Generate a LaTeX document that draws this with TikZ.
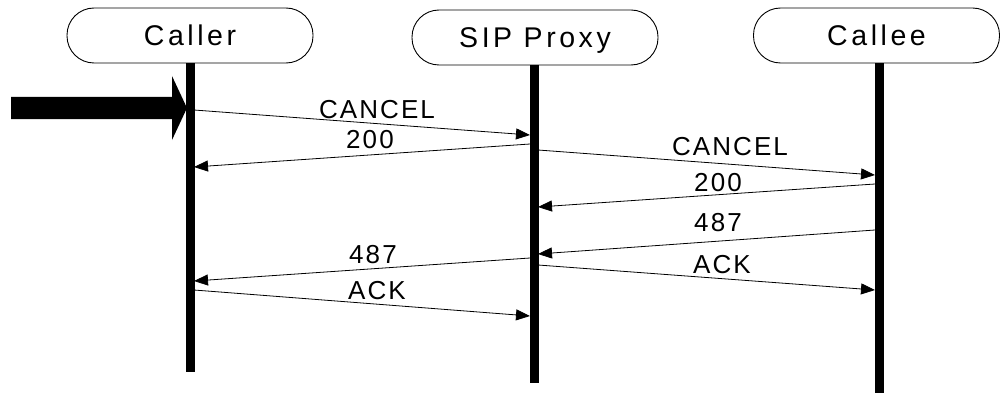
\documentclass[tikz,border=0pt]{standalone}
\usepackage{fontspec}
\setmainfont{Liberation Sans}
\newfontfamily\hdrfont[LetterSpace=12.5]{Liberation Sans}
\newfontfamily\lblfont[LetterSpace=8]{Liberation Sans}
\usetikzlibrary{arrows.meta}
\begin{document}
\begin{tikzpicture}[x=1pt,y=-1pt,
  header/.style={draw=black,line width=0.9pt,rounded corners=27pt,
    minimum width=246pt,minimum height=55pt,inner sep=0pt,
    font=\hdrfont\fontsize{28.5}{30}\selectfont,text height=20.4pt,text depth=0pt},
  lifeline/.style={line width=9pt},
  msg/.style={line width=0.8pt,-{Triangle[length=14pt,width=11pt]}},
  msglabel/.style={inner sep=0pt,font=\lblfont\fontsize{26}{28}\selectfont,
    text height=18.6pt,text depth=0pt}]
\useasboundingbox (0,0) rectangle (1000,393);
% headers
\node[header] (caller) at (190,35.5) {Caller};
\node[header] (proxy) at (535,37.5) {SIP Proxy};
\node[header] (callee) at (876.5,35.5) {Callee};
% lifeline ends
\coordinate (callerEnd) at (190,372);
\coordinate (proxyEnd) at (534,383);
\coordinate (calleeEnd) at (879,393);
\draw[lifeline] (caller.south -| callerEnd) -- (callerEnd);
\draw[lifeline] (proxy.south -| proxyEnd) -- (proxyEnd);
\draw[lifeline] (callee.south -| calleeEnd) -- (calleeEnd);
% big incoming arrow
\coordinate (bigTail) at (11,108);
\fill[black] (bigTail) ++(0,-11) -- (172,97) -- (172,76) -- (187,108) -- (172,140) -- (172,119) -- (11,119) -- cycle;
% message end points
\coordinate (a1) at (194,110); \coordinate (b1) at (530,135);
\coordinate (a2) at (530,144); \coordinate (b2) at (194,167);
\coordinate (a3) at (538,150); \coordinate (b3) at (875,175);
\coordinate (a4) at (875,184); \coordinate (b4) at (538,207);
\coordinate (a5) at (875,230); \coordinate (b5) at (538,254);
\coordinate (a6) at (530,258); \coordinate (b6) at (194,281);
\coordinate (a7) at (538,265); \coordinate (b7) at (875,290);
\coordinate (a8) at (194,290); \coordinate (b8) at (530,316);
\draw[msg] (a1) -- (b1);
\draw[msg] (a2) -- (b2);
\draw[msg] (a3) -- (b3);
\draw[msg] (a4) -- (b4);
\draw[msg] (a5) -- (b5);
\draw[msg] (a6) -- (b6);
\draw[msg] (a7) -- (b7);
\draw[msg] (a8) -- (b8);
% labels
\node[msglabel] (l1) at (377,109) {CANCEL};
\node[msglabel] (l2) at (370,139) {200};
\node[msglabel] (l3) at (730,146) {CANCEL};
\node[msglabel] (l4) at (718,182) {200};
\node[msglabel] (l5) at (718,222) {487};
\node[msglabel] (l6) at (373,254) {487};
\node[msglabel] (l7) at (722,264) {ACK};
\node[msglabel] (l8) at (377,290) {ACK};
\end{tikzpicture}
\end{document}
